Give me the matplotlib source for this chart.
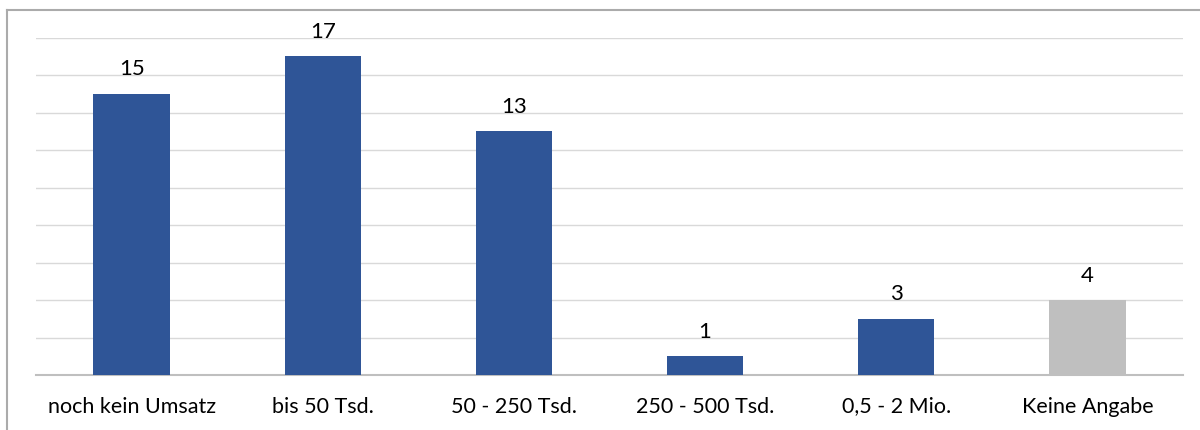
import matplotlib
matplotlib.use("Agg")
import matplotlib.pyplot as plt
from matplotlib.lines import Line2D

# revenue bands and number of answers per band
categories = ["noch kein Umsatz", "bis 50 Tsd.", "50 - 250 Tsd.", "250 - 500 Tsd.", "0,5 - 2 Mio.", "Keine Angabe"]
counts = [15, 17, 13, 1, 3, 4]
colors = ["#2F5597", "#2F5597", "#2F5597", "#2F5597", "#2F5597", "#BFBFBF"]

plt.rcParams["font.family"] = ["Lato", "DejaVu Sans"]

fig = plt.figure(figsize=(12, 4.3), dpi=100)
ax = fig.add_axes([36 / 1200, 55 / 430, 1147 / 1200, 337.5 / 430])

x = range(len(categories))
bars = ax.bar(x, counts, width=0.4, color=colors, zorder=3)
for rect, val in zip(bars, counts):
    ax.text(rect.get_x() + rect.get_width() / 2, val + 0.98, str(val),
            ha="center", va="baseline", fontsize=16, color="#000000")

ax.set_xlim(-0.5, len(categories) - 0.5)
ax.set_ylim(0, 18)
ax.set_yticks(range(0, 19, 2))
ax.yaxis.grid(True, color="#D9D9D9", linewidth=1.0, zorder=0)
ax.tick_params(axis="y", left=False, labelleft=False)
ax.tick_params(axis="x", bottom=False, pad=12, labelsize=15.5)
ax.set_xticks(list(x))
ax.set_xticklabels(categories)
for side in ["top", "right", "left"]:
    ax.spines[side].set_visible(False)
ax.spines["bottom"].set_color("#BFBFBF")
ax.spines["bottom"].set_linewidth(1.5)

# outer chart frame, only left and top edges fall inside the image
fig.add_artist(Line2D([7 / 1200, 7 / 1200], [0, 1 - 10 / 430], transform=fig.transFigure,
                      color="#ABABAB", linewidth=1.5))
fig.add_artist(Line2D([7 / 1200, 1], [1 - 10 / 430, 1 - 10 / 430], transform=fig.transFigure,
                      color="#ABABAB", linewidth=1.5))

fig.savefig("out.png", dpi=100, facecolor="white")
